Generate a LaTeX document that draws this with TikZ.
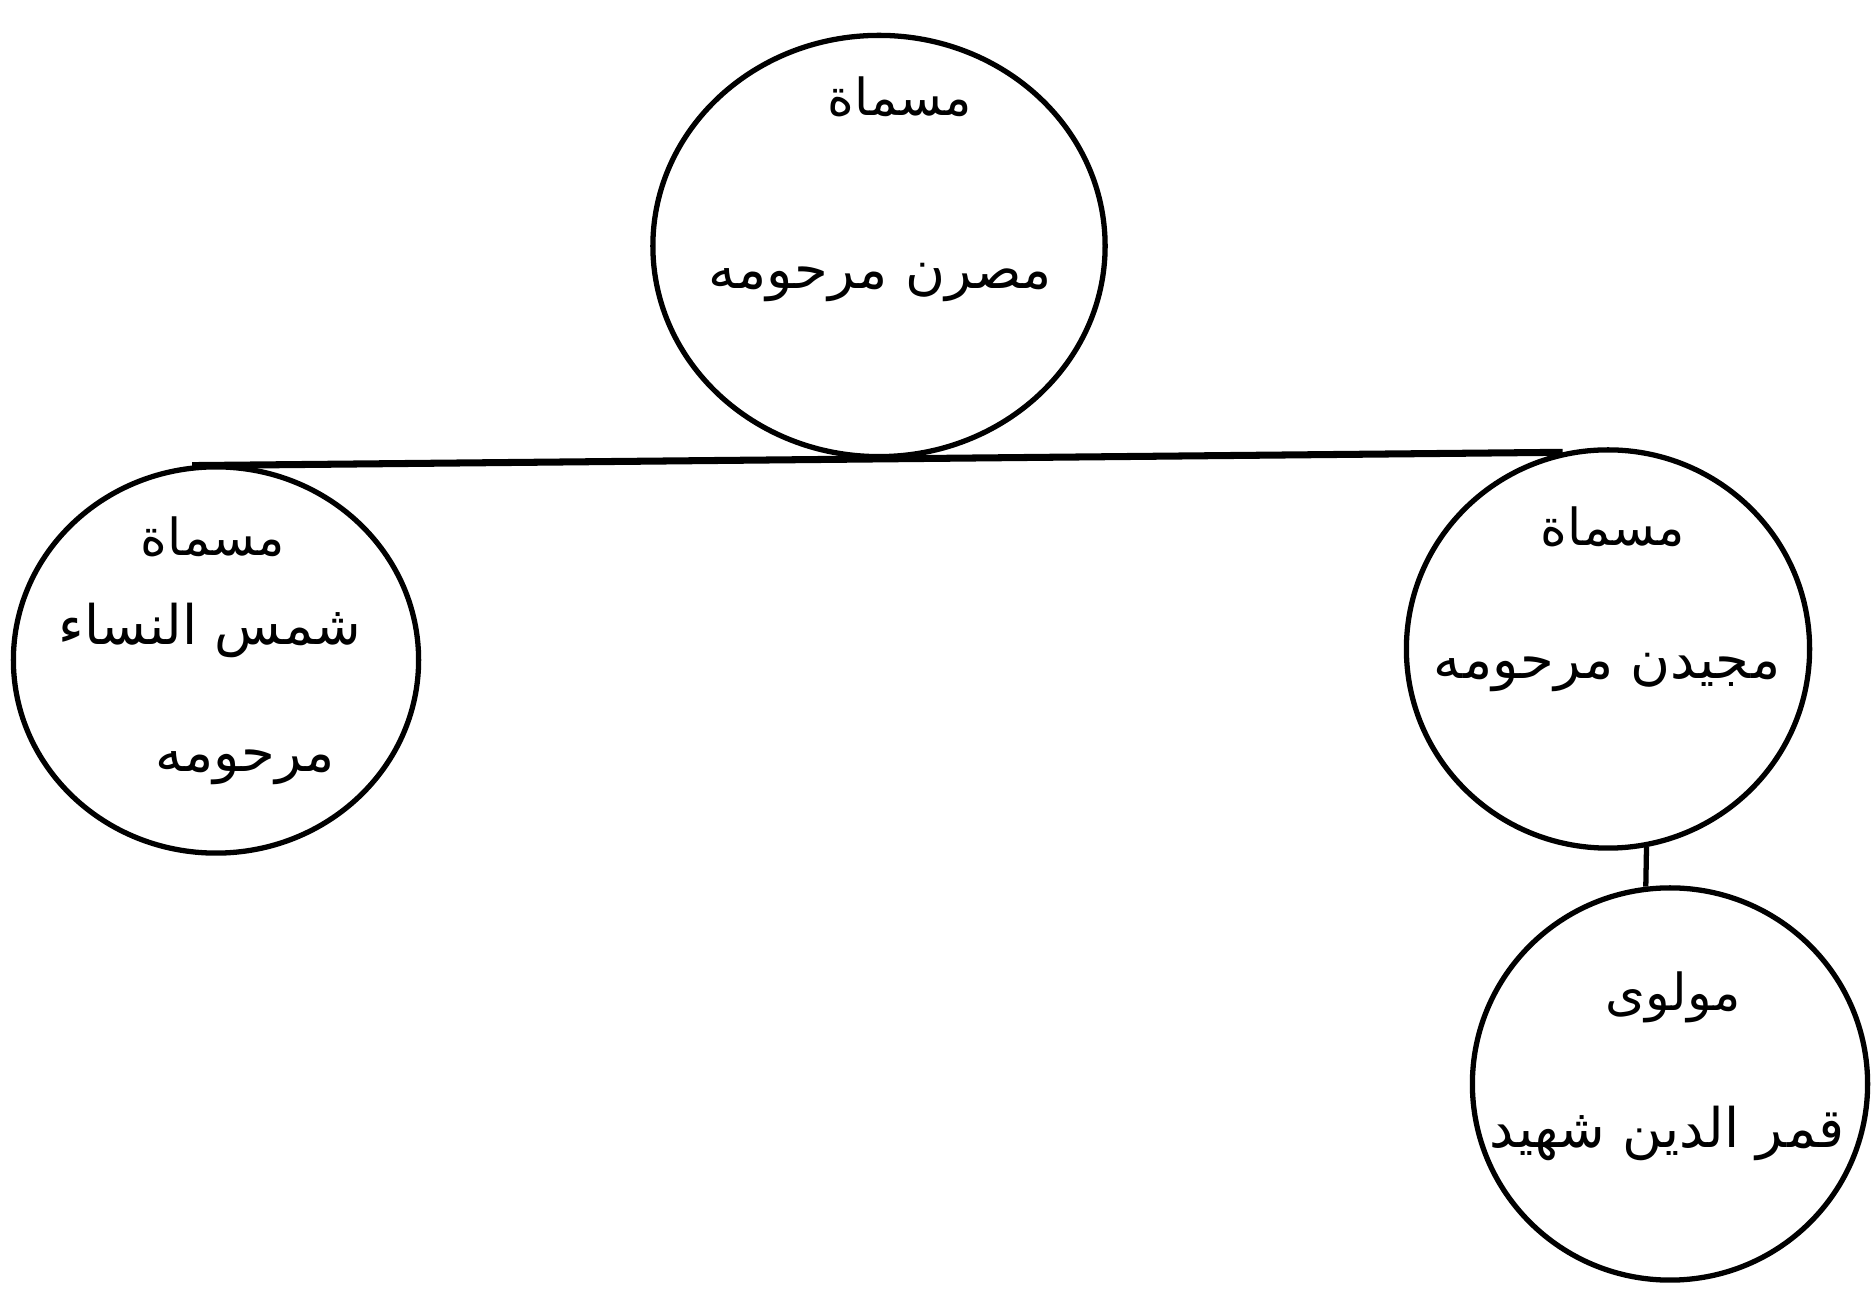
\documentclass[tikz,border=0pt]{standalone}
\usepackage{fontspec}
\usetikzlibrary{shapes.geometric}
\newfontfamily\urdu[Script=Arabic]{DejaVu Sans}
\TeXXeTstate=1

\begin{document}
\begin{tikzpicture}[x=0.01cm, y=-0.01cm, line width=1.5pt,
  person/.style={draw, ellipse, inner sep=0pt},
  titletext/.style={font=\urdu\fontsize{14.5}{18}\selectfont},
  nametext/.style={font=\urdu\fontsize{15.5}{20}\selectfont}]
\useasboundingbox (0,0) rectangle (1872,1298);
\node[person, minimum width=4.52cm, minimum height=4.21cm] (misran) at (879,246) {};
\node[person, minimum width=4.05cm, minimum height=3.86cm] (shams) at (216,660) {};
\node[person, minimum width=4.03cm, minimum height=3.98cm] (majidan) at (1608,649) {};
\node[person, minimum width=3.95cm, minimum height=3.92cm] (qamar) at (1670,1084) {};
\node[titletext] (misran-t) at (900,97) {\beginR مسماة\endR};
\node[nametext] (misran-n) at (880,283) {\beginR مصرن مرحومه\endR};
\node[titletext] (shams-t) at (213,537) {\beginR مسماة\endR};
\node[nametext] (shams-n) at (210,630) {\beginR شمس النساء\endR};
\node[nametext] (shams-m) at (245,767) {\beginR مرحومه\endR};
\node[titletext] (majidan-t) at (1613,527) {\beginR مسماة\endR};
\node[nametext] (majidan-n) at (1607,673) {\beginR مجیدن مرحومه\endR};
\node[titletext] (qamar-t) at (1673,997) {\beginR مولوی\endR};
\node[nametext] (qamar-n) at (1667,1133) {\beginR قمر الدین شهید\endR};
\draw[line width=2pt] (shams.97) -- (majidan.103);
\draw (majidan.-79) -- (qamar.97);
\end{tikzpicture}
\end{document}
